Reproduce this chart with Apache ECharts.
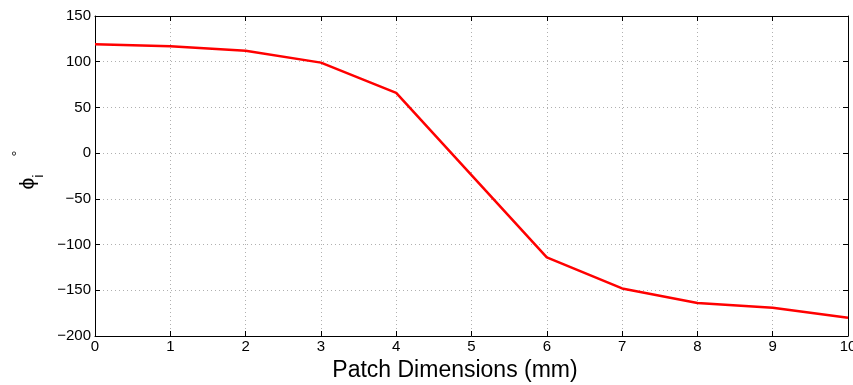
<!DOCTYPE html>
<html>
<head>
<meta charset="utf-8">
<script src="https://cdn.jsdelivr.net/npm/echarts@6/dist/echarts.min.js"></script>
<style>
html,body{margin:0;padding:0;background:#fff;}
#chart{width:853px;height:385px;}
</style>
</head>
<body>
<div id="chart"></div>
<script>
const patchDims = [0, 1, 2, 3, 4, 5, 6, 7, 8, 9, 10];
const phiValues = [119, 117, 112, 99, 66, -24, -114, -148, -164, -169, -180];
const xTicks = [0, 1, 2, 3, 4, 5, 6, 7, 8, 9, 10];
const yTicks = [-200, -150, -100, -50, 0, 50, 100, 150];

const FONT = '"Liberation Sans", Arial, sans-serif';
const chart = echarts.init(document.getElementById('chart'), null, {renderer: 'canvas'});
const fmt = v => String(v).replace('-', '\u2212');
const gridLine = {show: true, lineStyle: {color: '#b0b0b0', width: 1, type: [1, 3]}};
const axisLine = {show: true, onZero: false, lineStyle: {color: '#000', width: 1}};
const tick = {show: true, inside: true, length: 5, lineStyle: {color: '#000', width: 1}};

chart.setOption({
  animation: false,
  grid: {left: 95, right: 5, top: 16, bottom: 49, containLabel: false, outerBoundsMode: 'none'},
  xAxis: [{
    type: 'value', min: xTicks[0], max: xTicks[xTicks.length - 1], interval: 1,
    axisLine: axisLine, axisTick: tick, splitLine: gridLine,
    axisLabel: {color: '#000', fontFamily: FONT, fontSize: 15, margin: 3, formatter: fmt, showMaxLabel: true, showMinLabel: true, hideOverlap: false},
    name: 'Patch Dimensions (mm)', nameLocation: 'middle', nameGap: 21,
    nameTextStyle: {color: '#000', fontFamily: FONT, fontSize: 23, padding: [0, 33, 0, 0]}
  }, {
    type: 'value', position: 'top', min: xTicks[0], max: xTicks[xTicks.length - 1], interval: 1,
    axisLine: axisLine, axisTick: tick, splitLine: {show: false}, axisLabel: {show: false}
  }],
  yAxis: [{
    type: 'value', min: yTicks[0], max: yTicks[yTicks.length - 1], interval: 50,
    axisLine: axisLine, axisTick: tick, splitLine: gridLine,
    axisLabel: {color: '#000', fontFamily: FONT, fontSize: 15, margin: 4, formatter: fmt, hideOverlap: false},
    name: '{p|\u03D5}{s|i}{d|\u00B0}', nameLocation: 'middle', nameGap: 47, nameRotate: 90,
    nameTextStyle: {
      rich: {
        p: {fontFamily: FONT, fontSize: 21, color: '#000', verticalAlign: 'middle', lineHeight: 36, padding: [0, 0, 0, 12]},
        s: {fontFamily: FONT, fontSize: 15, color: '#000', verticalAlign: 'bottom', lineHeight: 36},
        d: {fontFamily: FONT, fontSize: 15, color: '#000', verticalAlign: 'top', lineHeight: 36, padding: [0, 0, 0, 18]}
      }
    }
  }, {
    type: 'value', position: 'right', min: yTicks[0], max: yTicks[yTicks.length - 1], interval: 50,
    axisLine: axisLine, axisTick: tick, splitLine: {show: false}, axisLabel: {show: false}
  }],
  series: [{
    type: 'line',
    data: patchDims.map((x, i) => [x, phiValues[i]]),
    showSymbol: false, symbol: 'none',
    lineStyle: {color: '#ff0000', width: 2.5},
    xAxisIndex: 0, yAxisIndex: 0
  }]
});
</script>
</body>
</html>
